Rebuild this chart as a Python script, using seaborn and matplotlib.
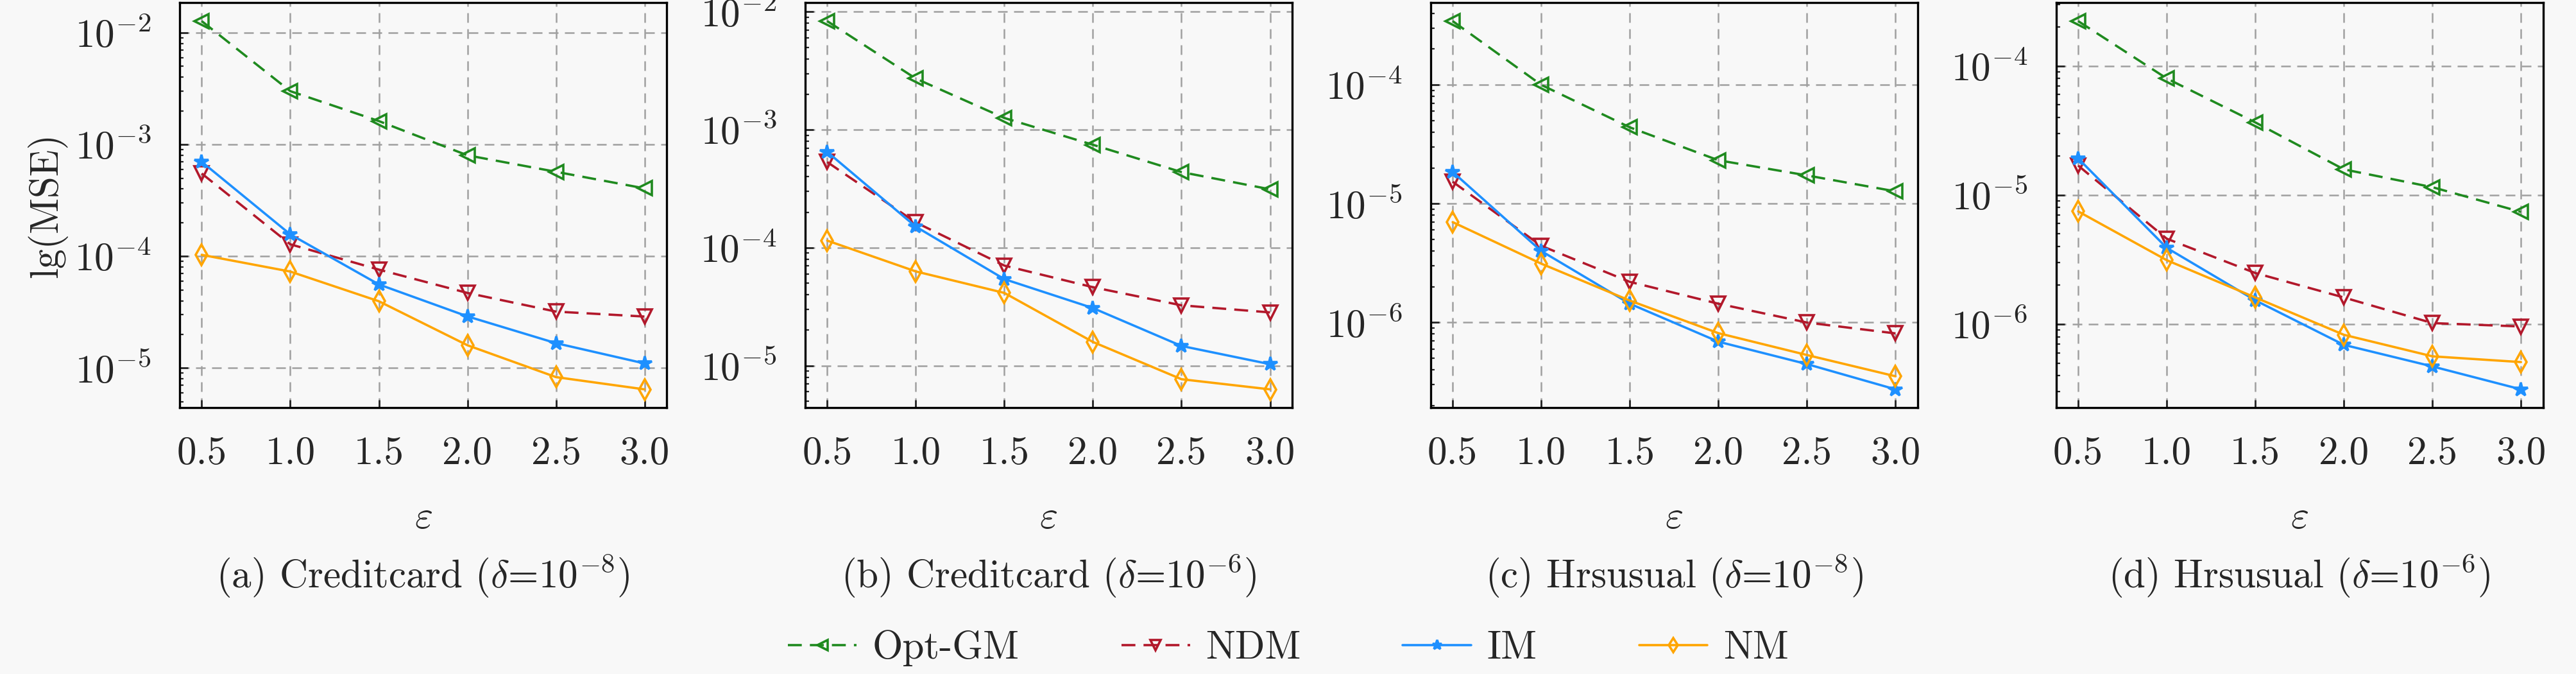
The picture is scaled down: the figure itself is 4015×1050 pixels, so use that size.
import numpy as np
import pandas as pd
import matplotlib
matplotlib.use("Agg")
import matplotlib.pyplot as plt
import seaborn as sns

# valores
eps = [0.5, 1.0, 1.5, 2.0, 2.5, 3.0]
metodos = ["Opt-GM", "NDM", "IM", "NM"]

# (a) Creditcard delta=1e-8
a_optgm = [1.27e-2, 3.0e-3, 1.62e-3, 8.0e-4, 5.7e-4, 4.05e-4]
a_ndm = [5.5e-4, 1.28e-4, 7.6e-5, 4.7e-5, 3.2e-5, 2.89e-5]
a_im = [7.0e-4, 1.57e-4, 5.6e-5, 2.9e-5, 1.67e-5, 1.1e-5]
a_nm = [1.03e-4, 7.3e-5, 3.96e-5, 1.6e-5, 8.3e-6, 6.45e-6]

# (b) Creditcard delta=1e-6
b_optgm = [8.35e-3, 2.72e-3, 1.26e-3, 7.47e-4, 4.38e-4, 3.13e-4]
b_ndm = [5.33e-4, 1.64e-4, 7.06e-5, 4.63e-5, 3.25e-5, 2.83e-5]
b_im = [6.5e-4, 1.51e-4, 5.42e-5, 3.08e-5, 1.47e-5, 1.03e-5]
b_nm = [1.15e-4, 6.3e-5, 4.14e-5, 1.59e-5, 7.68e-6, 6.3e-6]

# (c) Hrsusual delta=1e-8
c_optgm = [3.44e-4, 1.0e-4, 4.39e-5, 2.32e-5, 1.73e-5, 1.27e-5]
c_ndm = [1.53e-5, 4.42e-6, 2.2e-6, 1.44e-6, 1.0e-6, 8.1e-7]
c_im = [1.85e-5, 4.0e-6, 1.44e-6, 6.9e-7, 4.47e-7, 2.74e-7]
c_nm = [7.0e-6, 3.13e-6, 1.53e-6, 8.14e-7, 5.33e-7, 3.53e-7]

# (d) Hrsusual delta=1e-6
d_optgm = [2.22e-4, 7.99e-5, 3.65e-5, 1.58e-5, 1.15e-5, 7.4e-6]
d_ndm = [1.69e-5, 4.59e-6, 2.49e-6, 1.61e-6, 1.02e-6, 9.6e-7]
d_im = [1.92e-5, 3.9e-6, 1.53e-6, 6.92e-7, 4.71e-7, 3.13e-7]
d_nm = [7.47e-6, 3.13e-6, 1.61e-6, 8.28e-7, 5.64e-7, 5.09e-7]

titulos = [
    r"(a) Creditcard ($\delta$=10$^{-8}$)",
    r"(b) Creditcard ($\delta$=10$^{-6}$)",
    r"(c) Hrsusual ($\delta$=10$^{-8}$)",
    r"(d) Hrsusual ($\delta$=10$^{-6}$)",
]
paneles = [
    [a_optgm, a_ndm, a_im, a_nm],
    [b_optgm, b_ndm, b_im, b_nm],
    [c_optgm, c_ndm, c_im, c_nm],
    [d_optgm, d_ndm, d_im, d_nm],
]

# estilo de cada metodo
colores = {"Opt-GM": "#1f8a1f", "NDM": "#b2182b", "IM": "#1e90ff", "NM": "#ffa500"}
marcadores = {"Opt-GM": "<", "NDM": "v", "IM": "*", "NM": "d"}
lineas = {"Opt-GM": (0, (6, 3.5)), "NDM": (0, (6, 3.5)), "IM": "-", "NM": "-"}
relleno = {"Opt-GM": "none", "NDM": "none", "IM": "#1e90ff", "NM": "none"}

fondo = "#f8f8f8"
sns.set_style("ticks")
plt.rcParams.update({
    "font.family": "serif",
    "font.serif": ["cmr10"],
    "mathtext.fontset": "cm",
    "axes.formatter.use_mathtext": True,
    "axes.unicode_minus": False,
    "font.size": 22,
    "figure.facecolor": fondo,
    "axes.facecolor": fondo,
    "axes.edgecolor": "black",
    "axes.linewidth": 1.2,
})

fig, axes = plt.subplots(1, 4, figsize=(20.08, 5.25), dpi=200)
plt.subplots_adjust(left=0.0697, right=0.987, top=0.996, bottom=0.395, wspace=0.284)

for ax, series, titulo in zip(axes, paneles, titulos):
    for nombre, valores in zip(metodos, series):
        sns.lineplot(x=eps, y=valores, ax=ax, color=colores[nombre],
                     linestyle=lineas[nombre], marker=marcadores[nombre],
                     markersize=8, markerfacecolor=relleno[nombre],
                     markeredgecolor=colores[nombre], markeredgewidth=1.3,
                     linewidth=1.3, label=nombre, legend=False)
    if ax.get_legend() is not None:
        ax.get_legend().remove()
    ax.set_yscale("log")
    ax.set_xticks(eps)
    ax.set_xticklabels([f"{e:.1f}" for e in eps])
    ax.grid(True, which="major", linestyle=(0, (6, 4)), color="#a0a0a0", linewidth=0.9)
    ax.tick_params(which="both", direction="in", top=False, right=False)
    ax.tick_params(which="major", length=4.5, width=1.0, pad=16, labelsize=22)
    ax.tick_params(which="minor", length=2.2, width=0.8)
    ax.set_xlabel(r"$\varepsilon$", fontsize=22, labelpad=16)
    ax.set_ylabel("")
    ax.text(0.5, -0.415, titulo, transform=ax.transAxes, ha="center", va="center", fontsize=22)
    for s in ax.spines.values():
        s.set_visible(True)
        s.set_linewidth(1.2)

axes[0].set_ylabel("lg(MSE)", fontsize=22)

handles, labels = axes[0].get_legend_handles_labels()
fig.legend(handles, labels, loc="center", bbox_to_anchor=(0.5, 0.038), ncol=4,
           frameon=False, fontsize=22, handlelength=1.75, handletextpad=0.4,
           columnspacing=2.6, markerscale=0.7)

plt.savefig("out.png", dpi=200, facecolor=fondo)
print("Grafico 'out.png' guardado.")
